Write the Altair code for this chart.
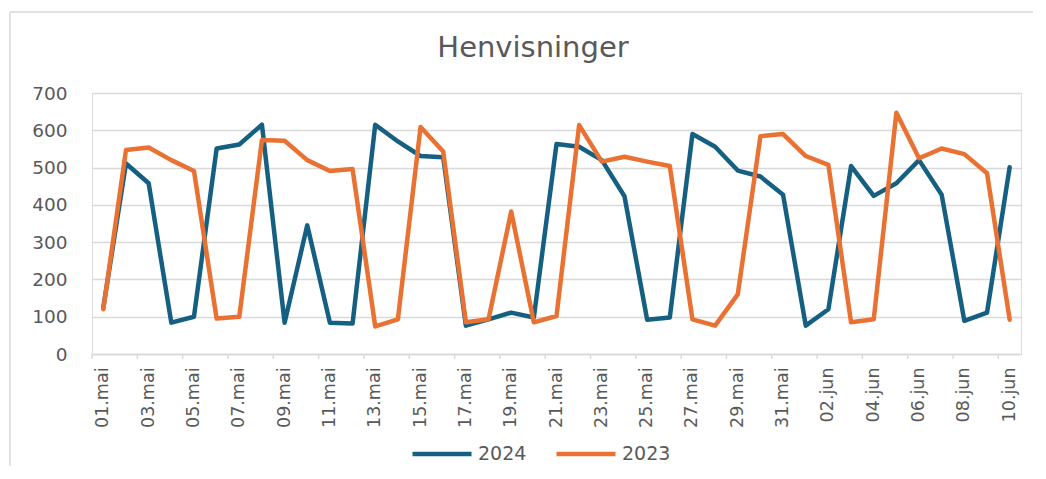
import altair as alt
import pandas as pd

days = ["01.mai", "02.mai", "03.mai", "04.mai", "05.mai", "06.mai", "07.mai", "08.mai",
        "09.mai", "10.mai", "11.mai", "12.mai", "13.mai", "14.mai", "15.mai", "16.mai",
        "17.mai", "18.mai", "19.mai", "20.mai", "21.mai", "22.mai", "23.mai", "24.mai",
        "25.mai", "26.mai", "27.mai", "28.mai", "29.mai", "30.mai", "31.mai", "01.jun",
        "02.jun", "03.jun", "04.jun", "05.jun", "06.jun", "07.jun", "08.jun", "09.jun",
        "10.jun"]

v2024 = [125, 511, 458, 84, 100, 551, 562, 615, 84, 345, 84, 82, 615, 570, 531, 528,
         76, 93, 111, 98, 563, 556, 520, 423, 92, 98, 590, 556, 492, 476, 427, 76,
         120, 504, 424, 458, 520, 427, 89, 111, 501]

v2023 = [120, 547, 554, 520, 491, 95, 100, 574, 572, 520, 491, 496, 74, 93, 609, 543,
         85, 93, 382, 85, 102, 614, 516, 529, 516, 504, 93, 76, 160, 584, 590, 531,
         507, 85, 93, 647, 525, 551, 536, 485, 92]

series_names = ["2024", "2023"]
series_colors = ["#156082", "#E97132"]
y_ticks = [0, 100, 200, 300, 400, 500, 600, 700]
label_days = days[::2]
chart_title = "Henvisninger"

rows = []
for d, a, b in zip(days, v2024, v2023):
    rows.append({"day": d, "series": "2024", "value": a})
    rows.append({"day": d, "series": "2023", "value": b})
df = pd.DataFrame(rows)
tick_df = pd.DataFrame({"day": label_days})

W, H = 929, 261
FONT = "DejaVu Sans"
GRAY = "#595959"
GRID = "#d9d9d9"
n_last = len(days) - 1

x_scale = alt.Scale(type="band", paddingInner=0, paddingOuter=0)

x_axis = alt.Axis(labelExpr="round(datum.index * %d) %% 2 == 0 ? datum.label : ''" % n_last,
                  labelAngle=-90, labelAlign="right", labelBaseline="middle",
                  labelFont=FONT, labelFontSize=17.5, labelColor=GRAY, labelPadding=13,
                  ticks=False, grid=False, domain=True, domainColor=GRID, domainWidth=1.4,
                  title=None, labelOverlap=False)
y_axis = alt.Axis(values=y_ticks, labelFont=FONT, labelFontSize=18.5, labelColor=GRAY,
                  labelPadding=25, ticks=False, tickSize=0, domain=False, grid=True,
                  gridColor=GRID, gridWidth=1.3, title=None)

color = alt.Color("series:N",
                  scale=alt.Scale(domain=series_names, range=series_colors),
                  legend=alt.Legend(title=None, orient="none", direction="horizontal",
                                    legendX=318, legendY=329, symbolType="stroke",
                                    symbolSize=3481, symbolStrokeWidth=4.5,
                                    labelFont=FONT, labelFontSize=19, labelColor=GRAY,
                                    labelOffset=4, columnPadding=20, padding=0))

base = alt.Chart(df).encode(
    x=alt.X("day:N", sort=days, scale=x_scale, axis=x_axis),
    y=alt.Y("value:Q", scale=alt.Scale(domain=[0, 700], nice=False), axis=y_axis),
    color=color,
)

line24 = base.transform_filter(alt.datum.series == "2024").mark_line(
    strokeWidth=4.5, strokeJoin="round", strokeCap="round")
line23 = base.transform_filter(alt.datum.series == "2023").mark_line(
    strokeWidth=4.5, strokeJoin="round", strokeCap="round")

ticks = alt.Chart(tick_df).mark_rule(color=GRID, strokeWidth=1.4).encode(
    x=alt.X("day:N", sort=days, scale=x_scale, bandPosition=0, axis=x_axis),
    y=alt.value(H),
    y2=alt.value(H + 5),
)

one = pd.DataFrame({"k": [0]})
frame_top = alt.Chart(one).mark_rule(color=GRID, strokeWidth=1.5).encode(
    x=alt.value(-82), x2=alt.value(W + 40), y=alt.value(-81))
frame_left = alt.Chart(one).mark_rule(color=GRID, strokeWidth=1.5).encode(
    x=alt.value(-82), y=alt.value(-81), y2=alt.value(H + 140))
title_text = alt.Chart(one).mark_text(font=FONT, fontSize=29, color=GRAY, align="center",
                                      baseline="alphabetic").encode(
    x=alt.value(441), y=alt.value(-36), text=alt.value(chart_title))

chart = alt.layer(line24, line23, ticks, frame_top, frame_left, title_text).properties(
    width=W, height=H,
    autosize=alt.AutoSizeParams(type="none"),
    padding={"left": 84, "top": 85, "right": 12, "bottom": 112},
).configure_view(stroke=None).configure(background="white")

chart.save("out.html", embed_options={"renderer": "svg", "actions": False})
